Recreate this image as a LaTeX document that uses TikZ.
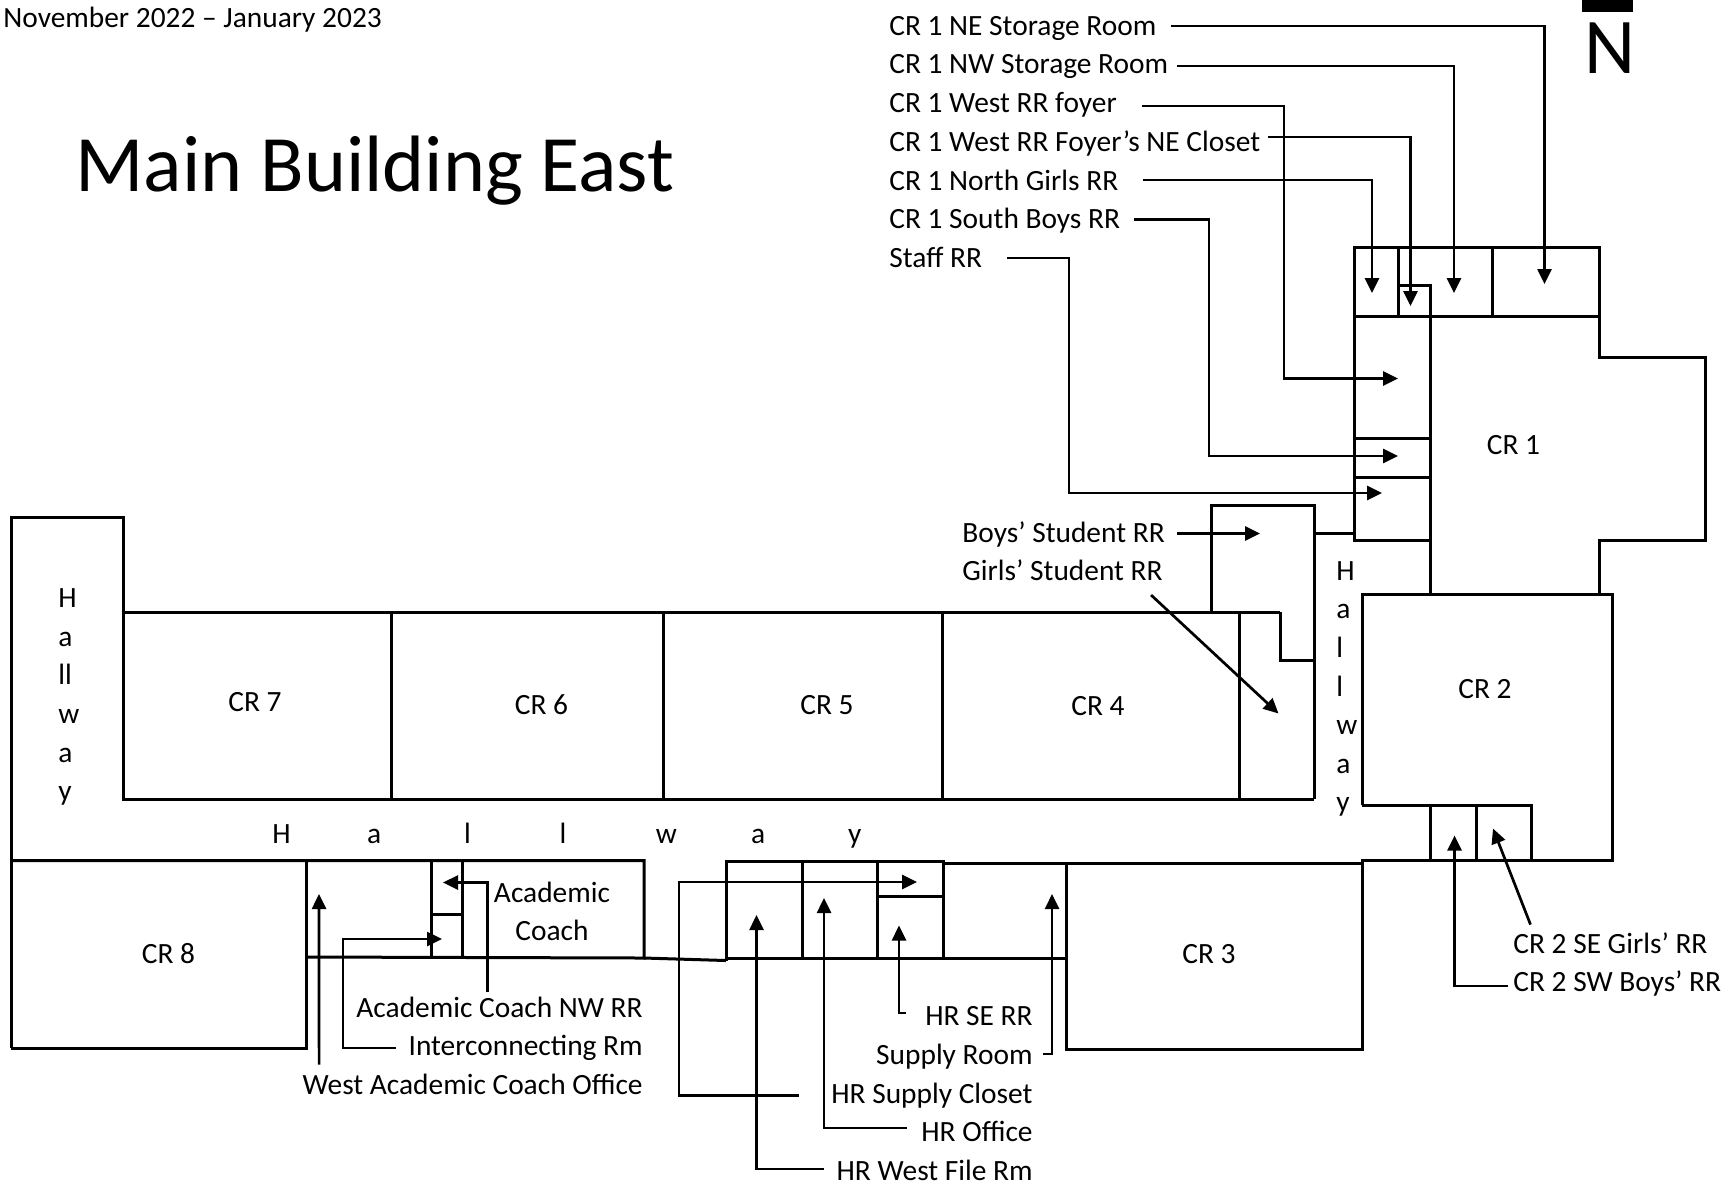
\documentclass[tikz,border=0pt]{standalone}
\usepackage{fontspec}
\setmainfont{Carlito}
\usetikzlibrary{arrows.meta}

\begin{document}
\begin{tikzpicture}[
    x=0.5pt, y=-0.5pt,
    wall/.style={line width=1.5pt},
    leader/.style={-{Triangle[length=7.5pt,width=7pt]}, line width=1.35pt},
    lbl/.style={inner sep=0pt, text height=9.3pt, text depth=0pt, font=\fontsize{14.7}{17}\selectfont},
    hall/.style={inner sep=0pt, anchor=north west, align=left, font=\fontsize{14.7}{19.3}\selectfont}
]
    \useasboundingbox (0,0) rectangle (1732,1191);

    % North mark
    \fill (1582,0) rectangle (1633,11.5);
    \node[inner sep=0pt, font=\fontsize{39.5}{42}\selectfont] (north) at (1610,48) {N};

    % Titles
    \node[lbl, anchor=west] (period) at (3,18) {November 2022 – January 2023};
    \node[inner sep=0pt, anchor=west, font=\fontsize{40}{44}\selectfont] (title) at (75,171) {Main Building East};

    % CR 1 wing
    \draw[wall] (1354,247) rectangle (1599,316);
    \draw[wall] (1398,247) -- (1398,316);
    \draw[wall] (1492,247) -- (1492,316);
    \draw[wall] (1398,285) -- (1430,285) -- (1430,316);
    \draw[wall] (1354,316) rectangle (1430,540);
    \draw[wall] (1354,438) -- (1430,438);
    \draw[wall] (1354,477) -- (1430,477);
    \draw[wall] (1430,540) -- (1430,594);
    \draw[wall] (1599,316) -- (1599,357) -- (1705,357) -- (1705,540) -- (1599,540) -- (1599,594);

    % Student restrooms
    \draw[wall] (1211,612) -- (1211,505) -- (1314,505) -- (1314,799);
    \draw[wall] (1314,533) -- (1354,533);
    \draw[wall] (1280,612) -- (1280,660) -- (1314,660);

    % North row
    \draw[wall] (11,1048) -- (11,517) -- (123,517) -- (123,799) -- (1314,799);
    \draw[wall] (123,612) -- (1280,612);
    \draw[wall] (391,612) -- (391,799);
    \draw[wall] (663,612) -- (663,799);
    \draw[wall] (942,612) -- (942,799);
    \draw[wall] (1239,612) -- (1239,799);

    % CR 2
    \draw[wall] (1362,805) -- (1362,594) -- (1612,594) -- (1612,860) -- (1362,860) -- (1362,1049) -- (1066,1049) -- (1066,863);
    \draw[wall] (1362,805) -- (1531,805) -- (1531,860);
    \draw[wall] (1430,805) -- (1430,860);
    \draw[wall] (1476,805) -- (1476,860);

    % South row
    \draw[wall] (11,1048) -- (306.5,1048) -- (306.5,860.5);
    \draw[wall] (11,860.5) -- (644,860.5) -- (644,958) -- (306.5,957);
    \draw[wall] (431,860.5) -- (431,957);
    \draw[wall] (462.5,860.5) -- (462.5,958);
    \draw[wall] (431,914) -- (462.5,914);
    \draw[wall] (644,958) -- (726,960.5);
    \draw[wall] (726,960.5) -- (726,861.5) -- (943,861.5) -- (943,958);
    \draw[wall] (802,861.5) -- (802,958);
    \draw[wall] (877,861.5) -- (877,958);
    \draw[wall] (877,896.5) -- (943,896.5);
    \draw[wall] (726,958) -- (1066,958);
    \draw[wall] (943,863) -- (1362,863);

    % Rooms
    \node[lbl] (cr1) at (1513.5,445) {CR 1};
    \node[lbl] (cr2) at (1485,689) {CR 2};
    \node[lbl] (cr3) at (1209,954) {CR 3};
    \node[lbl] (cr4) at (1098,706) {CR 4};
    \node[lbl] (cr5) at (827,705) {CR 5};
    \node[lbl] (cr6) at (541.5,705) {CR 6};
    \node[lbl] (cr7) at (255,702) {CR 7};
    \node[lbl] (cr8) at (168.5,954) {CR 8};
    \node[lbl] (coach1) at (552,893) {Academic};
    \node[lbl] (coach2) at (552,931) {Coach};

    % Hallways
    \node[hall] (hallwest) at (58,588.5) {H\\a\\ll\\w\\a\\y};
    \node[hall] (halleast) at (1336,561) {H\\a\\l\\l\\w\\a\\y};
    \node[lbl, anchor=west] (hallsouth) at (272,834) {H\hspace{38.2pt}a\hspace{41.5pt}l\hspace{44.3pt}l\hspace{44.8pt}w\hspace{37.1pt}a\hspace{41.5pt}y};

    % Labels
    \node[lbl, anchor=west] (nestore) at (889,26) {CR 1 NE Storage Room};
    \node[lbl, anchor=west] (nwstore) at (889,64.5) {CR 1 NW Storage Room};
    \node[lbl, anchor=west] (foyer) at (889,103) {CR 1 West RR foyer};
    \node[lbl, anchor=west] (closet) at (889,142) {CR 1 West RR Foyer’s NE Closet};
    \node[lbl, anchor=west] (northgirls) at (889,181) {CR 1 North Girls RR};
    \node[lbl, anchor=west] (southboys) at (889,219.5) {CR 1 South Boys RR};
    \node[lbl, anchor=west] (staff) at (889,258) {Staff RR};
    \node[lbl, anchor=west] (boys) at (962,533) {Boys’ Student RR};
    \node[lbl, anchor=west] (girls) at (962,571.5) {Girls’ Student RR};
    \node[lbl, anchor=west] (crtwogirls) at (1513,944) {CR 2 SE Girls’ RR};
    \node[lbl, anchor=west] (crtwoboys) at (1513,982) {CR 2 SW Boys’ RR};
    \node[lbl, anchor=east] (coachrr) at (643,1008) {Academic Coach NW RR};
    \node[lbl, anchor=east] (interrm) at (643,1046.5) {Interconnecting Rm};
    \node[lbl, anchor=east] (westcoach) at (643,1085) {West Academic Coach Office};
    \node[lbl, anchor=east] (hrserr) at (1033,1016) {HR SE RR};
    \node[lbl, anchor=east] (supply) at (1033,1055) {Supply Room};
    \node[lbl, anchor=east] (hrcloset) at (1033,1094) {HR Supply Closet};
    \node[lbl, anchor=east] (hroffice) at (1033,1132) {HR Office};
    \node[lbl, anchor=east] (hrfile) at (1033,1171) {HR West File Rm};

    % Arrow ends and bends
    \coordinate (nestoreEnd) at (1544.5,284);
    \coordinate (nwstoreEnd) at (1454,293);
    \coordinate (foyerBend) at (1284,106);
    \coordinate (foyerEnd) at (1398,378.5);
    \coordinate (closetEnd) at (1410.5,306);
    \coordinate (northgirlsEnd) at (1372,293);
    \coordinate (southboysBend) at (1209,219.5);
    \coordinate (southboysEnd) at (1398,456);
    \coordinate (staffBend) at (1069,258);
    \coordinate (staffEnd) at (1382,493);
    \coordinate (boysEnd) at (1260,533.5);
    \coordinate (girlsEnd) at (1278.5,713.5);
    \coordinate (crtwogirlsEnd) at (1493,828.5);
    \coordinate (crtwoboysEnd) at (1454.5,835.5);
    \coordinate (coachrrEnd) at (443,882.5);
    \coordinate (interrmBend) at (343,1048);
    \coordinate (interrmEnd) at (442,939);
    \coordinate (westcoachEnd) at (319,894);
    \coordinate (hrserrEnd) at (899,925.5);
    \coordinate (supplyEnd) at (1052,894);
    \coordinate (hrclosetBend) at (679,1095.7);
    \coordinate (hrclosetEnd) at (917,882);
    \coordinate (hrofficeEnd) at (824,898);
    \coordinate (hrfileEnd) at (756.5,915);

    % Arrows
    \draw[leader] ([shift={(14,0)}]nestore.east) -| (nestoreEnd);
    \draw[leader] ([shift={(9,1.5)}]nwstore.east) -| (nwstoreEnd);
    \draw[leader] ([shift={(25,3)}]foyer.east) -- (foyerBend) |- (foyerEnd);
    \draw[leader] ([shift={(7.5,-5)}]closet.east) -| (closetEnd);
    \draw[leader] ([shift={(24,-1)}]northgirls.east) -| (northgirlsEnd);
    \draw[leader] ([shift={(14,0)}]southboys.east) -- (southboysBend) |- (southboysEnd);
    \draw[leader] ([shift={(25,0)}]staff.east) -- (staffBend) |- (staffEnd);
    \draw[leader] ([shift={(12,0.5)}]boys.east) -- (boysEnd);
    \draw[leader] ([shift={(-12,23.5)}]girls.east) -- (girlsEnd);
    \draw[leader] ([shift={(17.5,-9.7)}]crtwogirls.north west) -- (crtwogirlsEnd);
    \draw[leader] ([shift={(-5,4)}]crtwoboys.west) -| (crtwoboysEnd);
    \draw[leader] ([shift={(-155.5,-6)}]coachrr.north east) |- (coachrrEnd);
    \draw[leader] ([shift={(-12,1.5)}]interrm.west) -- (interrmBend) |- (interrmEnd);
    \draw[leader] ([shift={(17,-10.7)}]westcoach.north west) -- (westcoachEnd);
    \draw[leader] ([shift={(-19,-3)}]hrserr.west) -| (hrserrEnd);
    \draw[leader] ([shift={(10,-1)}]supply.east) -| (supplyEnd);
    \draw[leader] ([shift={(-32,1.7)}]hrcloset.west) -- (hrclosetBend) |- (hrclosetEnd);
    \draw[leader] ([shift={(-14.5,-4)}]hroffice.west) -| (hrofficeEnd);
    \draw[leader] ([shift={(-12,-2)}]hrfile.west) -| (hrfileEnd);
\end{tikzpicture}
\end{document}
